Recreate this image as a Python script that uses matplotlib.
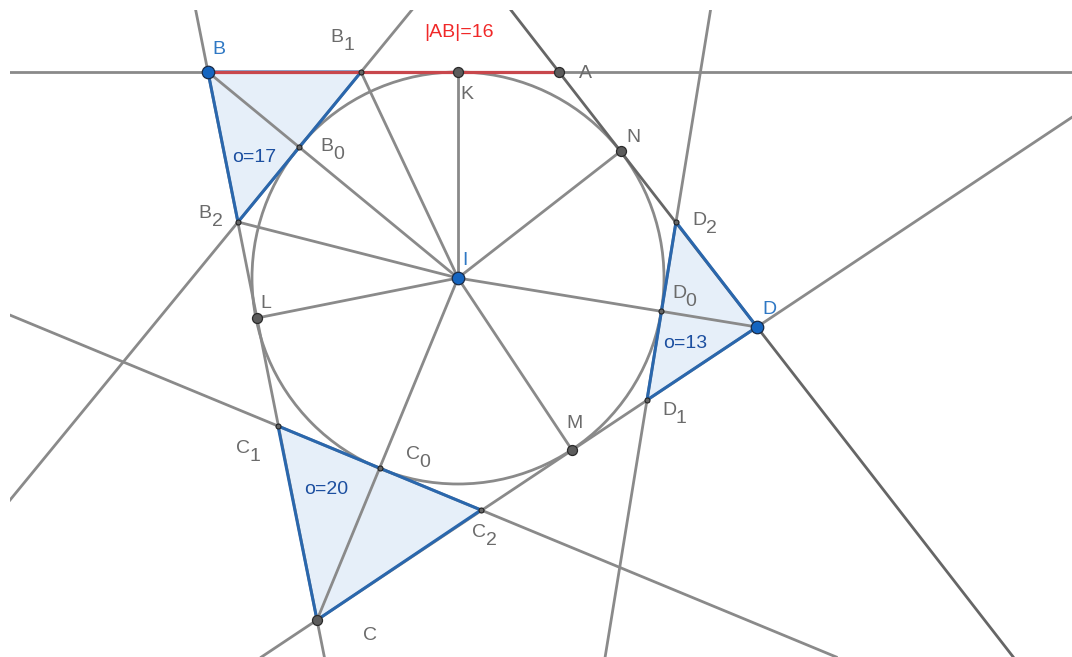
import matplotlib
matplotlib.use("Agg")
import matplotlib.pyplot as plt
from matplotlib.patches import Circle, Polygon

plt.rcParams['font.family'] = ['Liberation Sans', 'DejaVu Sans']

# Points of the figure (pixel-like coordinates)
A = (559, 72); B = (208, 72); C = (317, 620); D = (757, 327)
I = (458, 278); K = (458, 72); L = (257, 318); M = (572, 450); N = (621, 151)
B0 = (299, 147); B1 = (361, 72); B2 = (238, 222)
C0 = (380, 468); C1 = (278, 426); C2 = (481, 510)
D0 = (661, 311); D1 = (647, 400); D2 = (676, 222)
radius = 206

triangles = [(B, B1, B2), (C, C1, C2), (D, D1, D2)]
gray_lines = [(B, A), (B, C), (C, D), (B1, B2), (C1, C2), (D1, D2)]
dark_lines = [(A, D)]
spokes = [K, B1, B, B2, L, C, M, N, D]
big_gray = [K, A, N, L, M, C]
big_blue = [B, D, I]
small_pts = [B0, B1, B2, C0, C1, C2, D0, D1, D2]

labels = [("B", 219, 49, '#2f78c4'), ("D", 769, 309, '#2f78c4'), ("I", 465, 260, '#2f78c4'),
          ("A", 585, 73, '#6b6b6b'), ("K", 467, 94, '#6b6b6b'), ("N", 633, 137, '#6b6b6b'),
          ("L", 266, 303, '#6b6b6b'), ("M", 574, 423, '#6b6b6b'), ("C", 370, 635, '#6b6b6b')]
sub_labels = [("B", "1", 337, 37), ("B", "0", 327, 146), ("B", "2", 205, 213),
              ("C", "1", 243, 448), ("C", "0", 413, 454), ("C", "2", 479, 532),
              ("D", "1", 669, 410), ("D", "0", 679, 293), ("D", "2", 699, 220)]
perims = [("o=17", 254, 157), ("o=13", 685, 343), ("o=20", 326, 489)]
length_text = ("|AB|=16", 459, 32)

fig = plt.figure(figsize=(10.72, 6.57), dpi=100, facecolor='white')
ax = fig.add_axes([10 / 1072, 0, 1 - 10 / 1072, 647 / 657])
ax.set_xlim(10, 1072)
ax.set_ylim(657, 10)
ax.axis('off')

GRAY = '#8a8a8a'
DARK = '#666666'
BLUE = '#2a67ad'
FILL = '#e6eff9'
TXT = '#6b6b6b'

for t in triangles:
    ax.add_patch(Polygon(t, closed=True, fc=FILL, ec='none', zorder=1))

ax.add_patch(Circle(I, radius, fc='none', ec=GRAY, lw=2.0, zorder=2))

for p, q in gray_lines:
    ax.axline(p, q, color=GRAY, lw=2.0, zorder=3)
for p in spokes:
    ax.plot([I[0], p[0]], [I[1], p[1]], color=GRAY, lw=2.0, zorder=3, solid_capstyle='butt')
for p, q in dark_lines:
    ax.axline(p, q, color=DARK, lw=2.0, zorder=3)

for t in triangles:
    ax.add_patch(Polygon(t, closed=True, fc='none', ec=BLUE, lw=2.2, zorder=4, joinstyle='round'))

ax.plot([B[0], A[0]], [B[1], A[1]], color='#c8474c', lw=2.3, zorder=5, solid_capstyle='butt')

ax.plot(*zip(*small_pts), ls='none', marker='o', ms=3.6, mfc='#666666', mec='#222222', mew=0.8, zorder=6)
ax.plot(*zip(*big_gray), ls='none', marker='o', ms=7.2, mfc='#5c5c5c', mec='#2a2a2a', mew=0.9, zorder=6)
ax.plot(*zip(*big_blue), ls='none', marker='o', ms=9.0, mfc='#1565c0', mec='#1a2a44', mew=0.9, zorder=7)

FS = 14
for s, x, y, c in labels:
    ax.text(x, y, s, color=c, fontsize=FS, ha='center', va='center', zorder=8)
for s, sub, x, y in sub_labels:
    ax.text(x, y, s, color=TXT, fontsize=FS, ha='center', va='center', zorder=8)
    ax.text(x + 12, y + 8.5, sub, color=TXT, fontsize=FS, ha='center', va='center', zorder=8)
for s, x, y in perims:
    ax.text(x, y, s, color='#1c4fa0', fontsize=FS, ha='center', va='center', zorder=8)
ax.text(length_text[1], length_text[2], length_text[0], color='#f02828', fontsize=FS,
        ha='center', va='center', zorder=8)

fig.savefig('out.png', dpi=100, facecolor='white')
